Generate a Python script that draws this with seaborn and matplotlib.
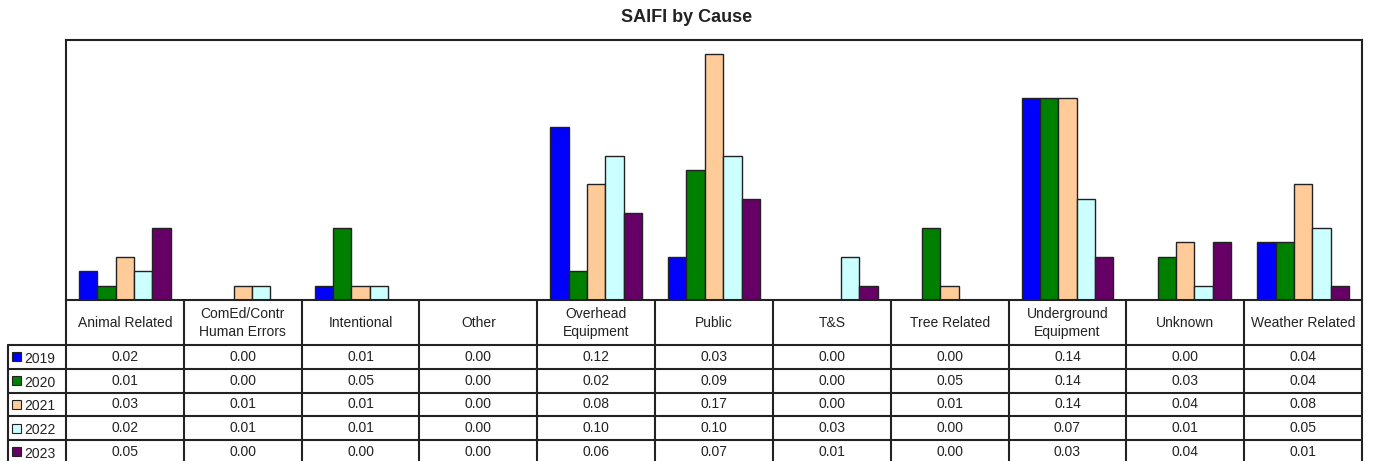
import pandas as pd
import matplotlib.pyplot as plt
import seaborn as sns
from matplotlib.patches import Rectangle

# --- datos ---
categories = ['Animal Related', 'ComEd/Contr\nHuman Errors', 'Intentional', 'Other',
              'Overhead\nEquipment', 'Public', 'T&S', 'Tree Related',
              'Underground\nEquipment', 'Unknown', 'Weather Related']
years = ['2019', '2020', '2021', '2022', '2023']
v2019 = [0.02, 0.00, 0.01, 0.00, 0.12, 0.03, 0.00, 0.00, 0.14, 0.00, 0.04]
v2020 = [0.01, 0.00, 0.05, 0.00, 0.02, 0.09, 0.00, 0.05, 0.14, 0.03, 0.04]
v2021 = [0.03, 0.01, 0.01, 0.00, 0.08, 0.17, 0.00, 0.01, 0.14, 0.04, 0.08]
v2022 = [0.02, 0.01, 0.01, 0.00, 0.10, 0.10, 0.03, 0.00, 0.07, 0.01, 0.05]
v2023 = [0.05, 0.00, 0.00, 0.00, 0.06, 0.07, 0.01, 0.00, 0.03, 0.04, 0.01]
colors = ['#0000FF', '#008000', '#FFCC99', '#CCFFFF', '#660066']

series = [v2019, v2020, v2021, v2022, v2023]
rows = []
for y, vals in zip(years, series):
    for c, v in zip(categories, vals):
        rows.append({'cause': c, 'year': y, 'saifi': v})
df = pd.DataFrame(rows)

sns.set_style('white')
plt.rcParams['font.family'] = ['Liberation Sans', 'DejaVu Sans']

W, H = 1374, 461
fig = plt.figure(figsize=(W / 100, H / 100), dpi=100)
x0, x1, y0, y1 = 66, 1362, 40, 300
ax = fig.add_axes([x0 / W, 1 - y1 / H, (x1 - x0) / W, (y1 - y0) / H])

sns.barplot(data=df, x='cause', y='saifi', hue='year', order=categories,
            hue_order=years, palette=colors, saturation=1, width=0.78, gap=0,
            edgecolor='#222222', linewidth=1, legend=False, ax=ax)
ax.set_ylim(0, 0.18)
ax.set_xlim(-0.5, len(categories) - 0.5)
ax.set_xticks([])
ax.set_yticks([])
ax.set_xlabel('')
ax.set_ylabel('')
for s in ax.spines.values():
    s.set_color('#222222')
    s.set_linewidth(1.5)

fig.text(0.5, 1 - 18 / H, 'SAIFI by Cause', ha='center', va='center',
         fontsize=13, fontweight='bold', color='#222222')

# --- tabla de datos ---
tab = fig.add_axes([0, 0, 1, 1], facecolor='none')
tab.set_xlim(0, W)
tab.set_ylim(H, 0)
tab.axis('off')

n = len(categories)
cw = (x1 - x0) / n
head_bot = 345
rh = 23.75
lc = '#222222'
lw = 1.5
txt = '#222222'

row_lines = [head_bot + i * rh for i in range(len(years) + 1)]
for yl in row_lines:
    tab.plot([8, x1], [yl, yl], color=lc, lw=lw)
for i in range(n + 1):
    tab.plot([x0 + i * cw] * 2, [y1, H + 5], color=lc, lw=lw)
tab.plot([8, 8], [head_bot, H + 5], color=lc, lw=lw)

for i, c in enumerate(categories):
    tab.text(x0 + (i + 0.5) * cw, (y1 + head_bot) / 2 + 0.5, c, ha='center', va='center',
             fontsize=10, color=txt, linespacing=1.45)

for r, (y, vals, col) in enumerate(zip(years, series, colors)):
    yc = head_bot + (r + 0.5) * rh
    tab.add_patch(Rectangle((12, yc - 4.5), 9, 9, facecolor=col, edgecolor='#222222', lw=0.8))
    tab.text(24, yc + 2, y, ha='left', va='center', fontsize=10, color=txt)
    for i, v in enumerate(vals):
        tab.text(x0 + (i + 0.5) * cw, yc, f'{v:.2f}', ha='center', va='center',
                 fontsize=10, color=txt)

fig.savefig('out.png', dpi=100)
